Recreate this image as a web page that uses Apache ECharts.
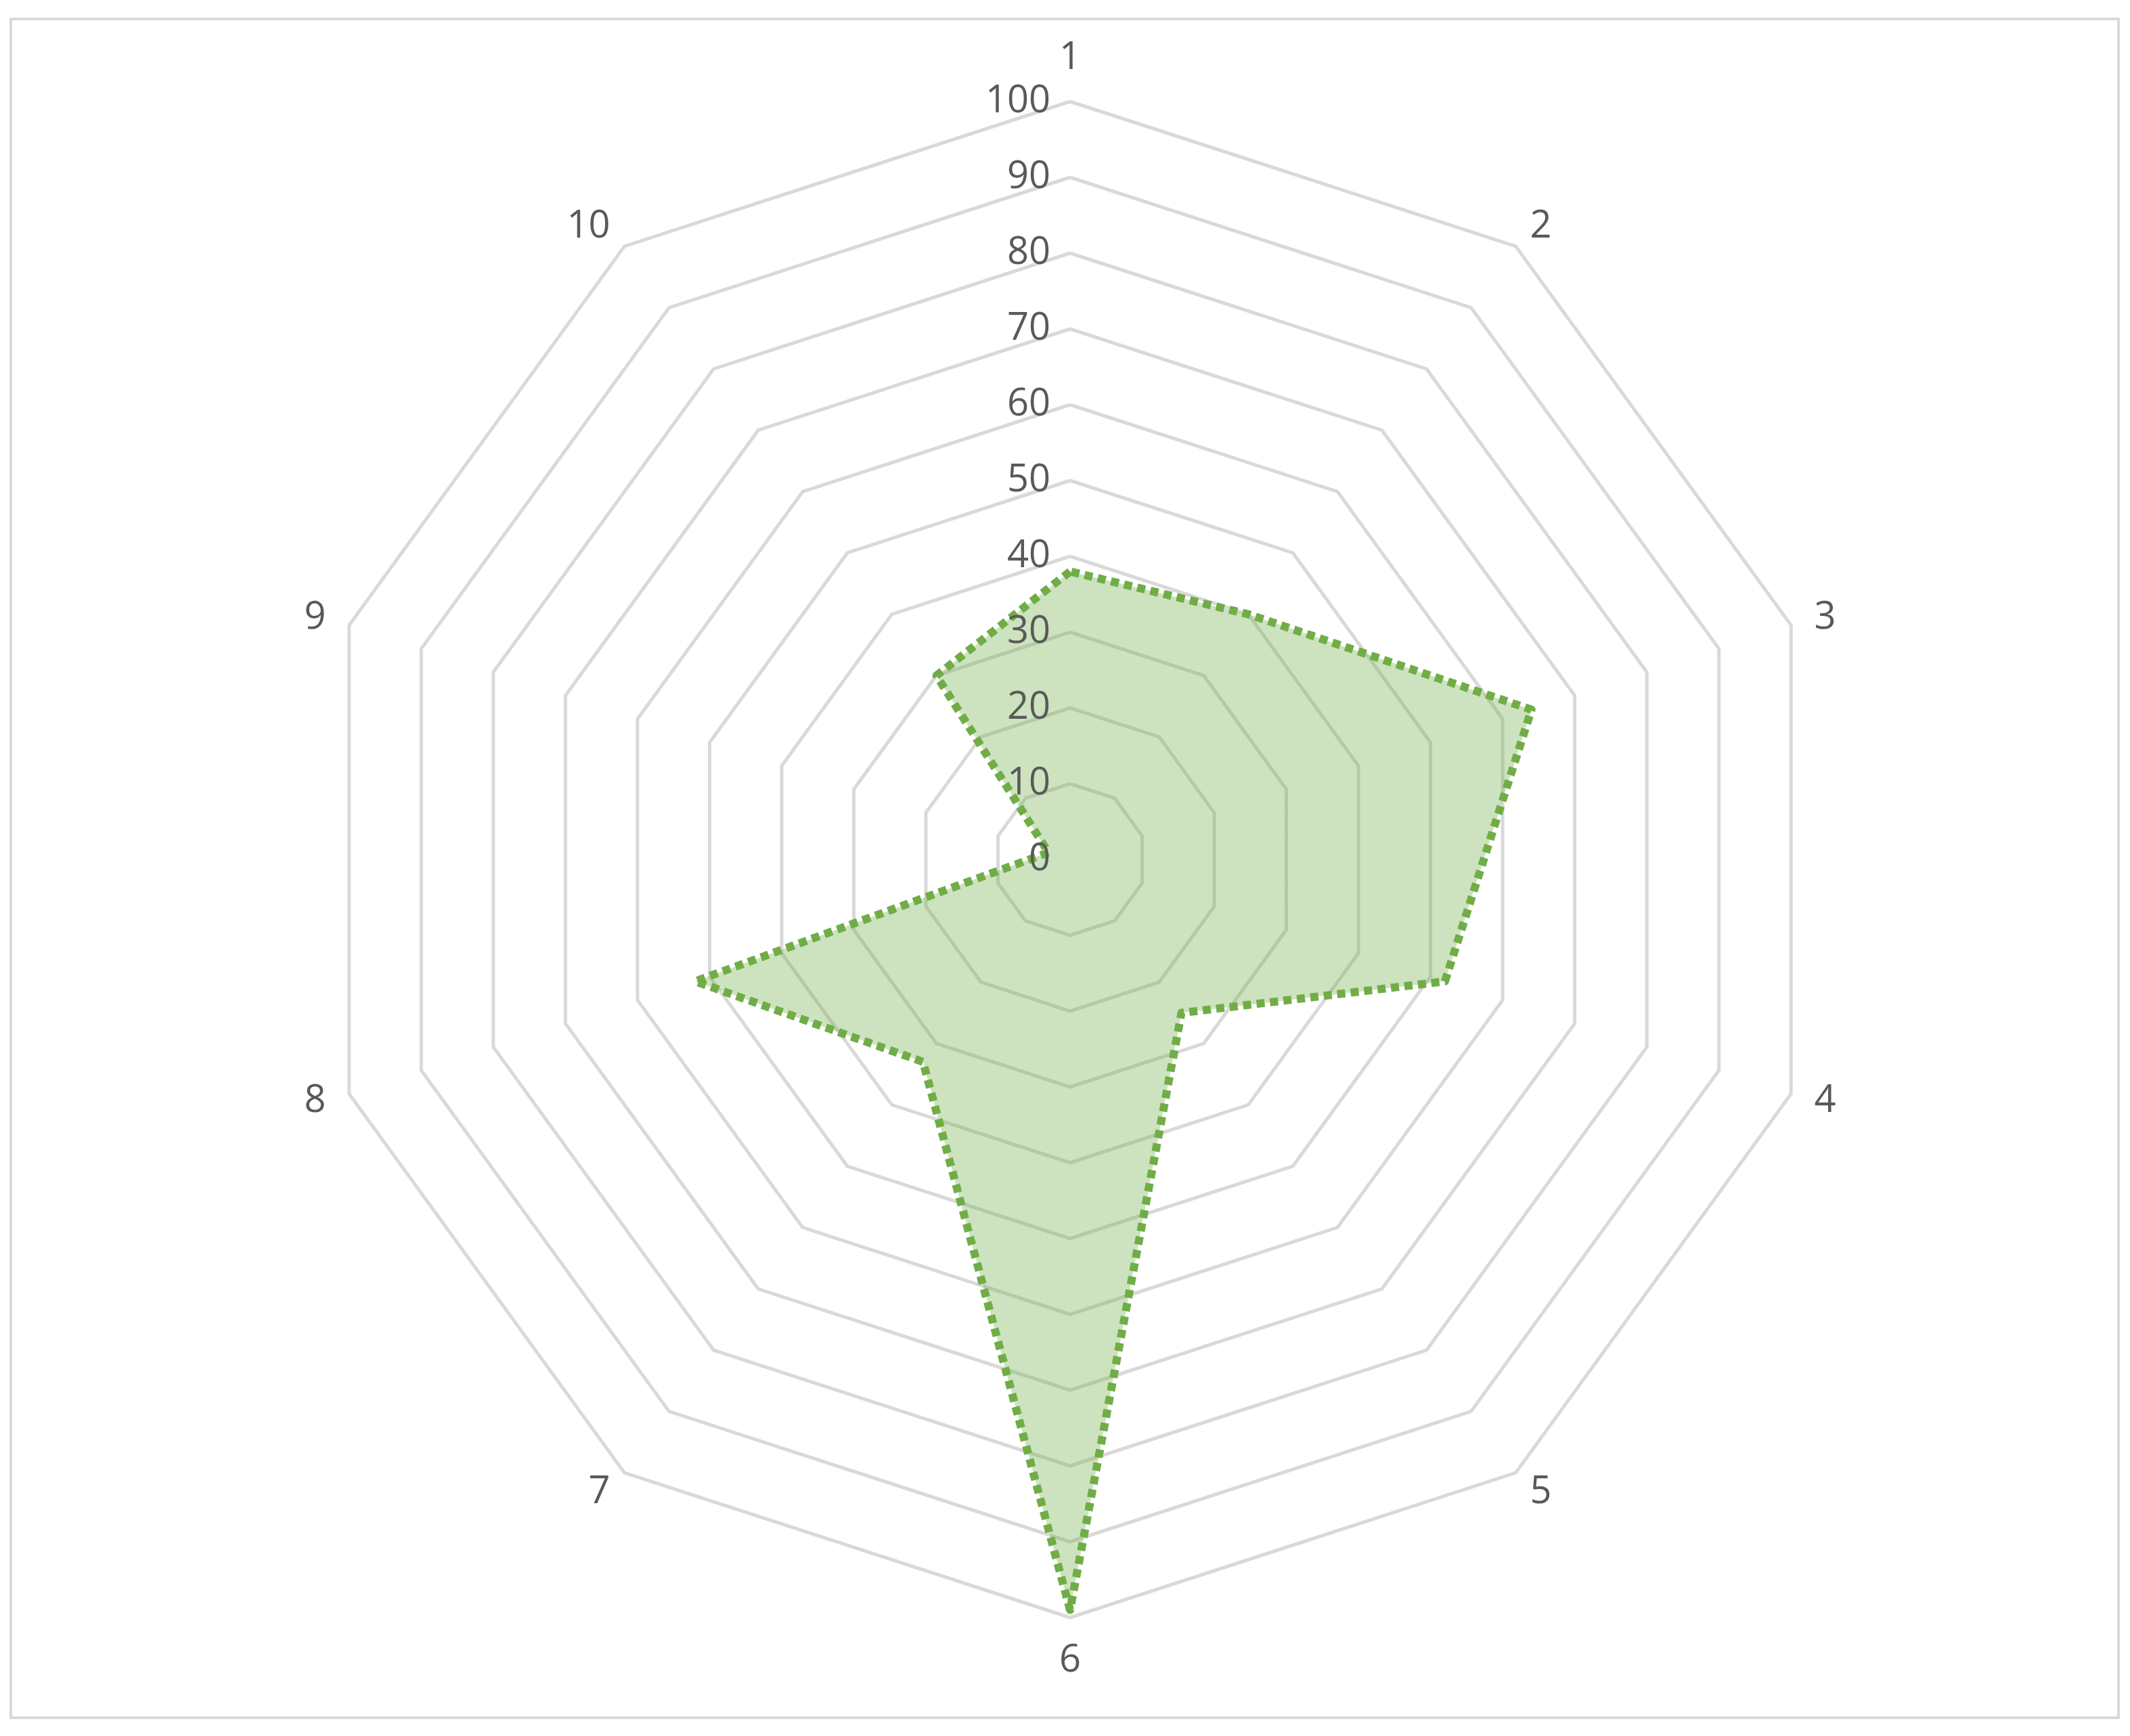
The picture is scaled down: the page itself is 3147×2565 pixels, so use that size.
<!DOCTYPE html>
<html><head><meta charset="utf-8">
<script src="https://cdn.jsdelivr.net/npm/echarts@6/dist/echarts.min.js"></script>
<style>html,body{margin:0;padding:0;background:#fff}#main{width:3147px;height:2565px}</style>
</head><body><div id="main"></div>
<script>
var categories = ['1','2','3','4','5','6','7','8','9','10'];
var values = [38, 40, 64, 52, 25, 99, 33, 52, 3, 30];
var ticks = ['0','10','20','30','40','50','60','70','80','90','100'];

// ECharts lays radar indicators counterclockwise; reverse all but the first to go clockwise
var order = [0, 9, 8, 7, 6, 5, 4, 3, 2, 1];
var cats = order.map(function (i) { return categories[i]; });
var vals = order.map(function (i) { return values[i]; });

var chart = echarts.init(document.getElementById('main'));
var graphic = [{ type: 'rect', shape: { x: 16, y: 28, width: 3114, height: 2510 },
  style: { fill: 'none', stroke: '#D9D9D9', lineWidth: 4 } }];
ticks.forEach(function (t, i) {
  graphic.push({ type: 'text', z: 100, style: { text: t, x: 1552, y: 1270 - i * 112,
    align: 'right', verticalAlign: 'middle', fill: '#595959', fontSize: 56, fontFamily: 'Open Sans' } });
});
chart.setOption({
  backgroundColor: '#fff',
  graphic: graphic,
  radar: {
    center: [1581, 1270],
    radius: 1120,
    startAngle: 90,
    splitNumber: 10,
    shape: 'polygon',
    indicator: cats.map(function (c) { return { name: c, min: 0, max: 100 }; }),
    axisName: { color: '#595959', fontSize: 56, fontFamily: 'Open Sans' },
    nameGap: 36,
    splitLine: { lineStyle: { color: '#D9D9D9', width: 5 } },
    splitArea: { show: false },
    axisLine: { show: false },
    axisLabel: { show: false }
  },
  series: [{
    type: 'radar',
    symbol: 'none',
    data: [{ value: vals }],
    lineStyle: { color: '#70AD47', width: 12, type: [12, 8] },
    areaStyle: { color: 'rgba(112,173,71,0.5)' }
  }]
});
</script></body></html>
